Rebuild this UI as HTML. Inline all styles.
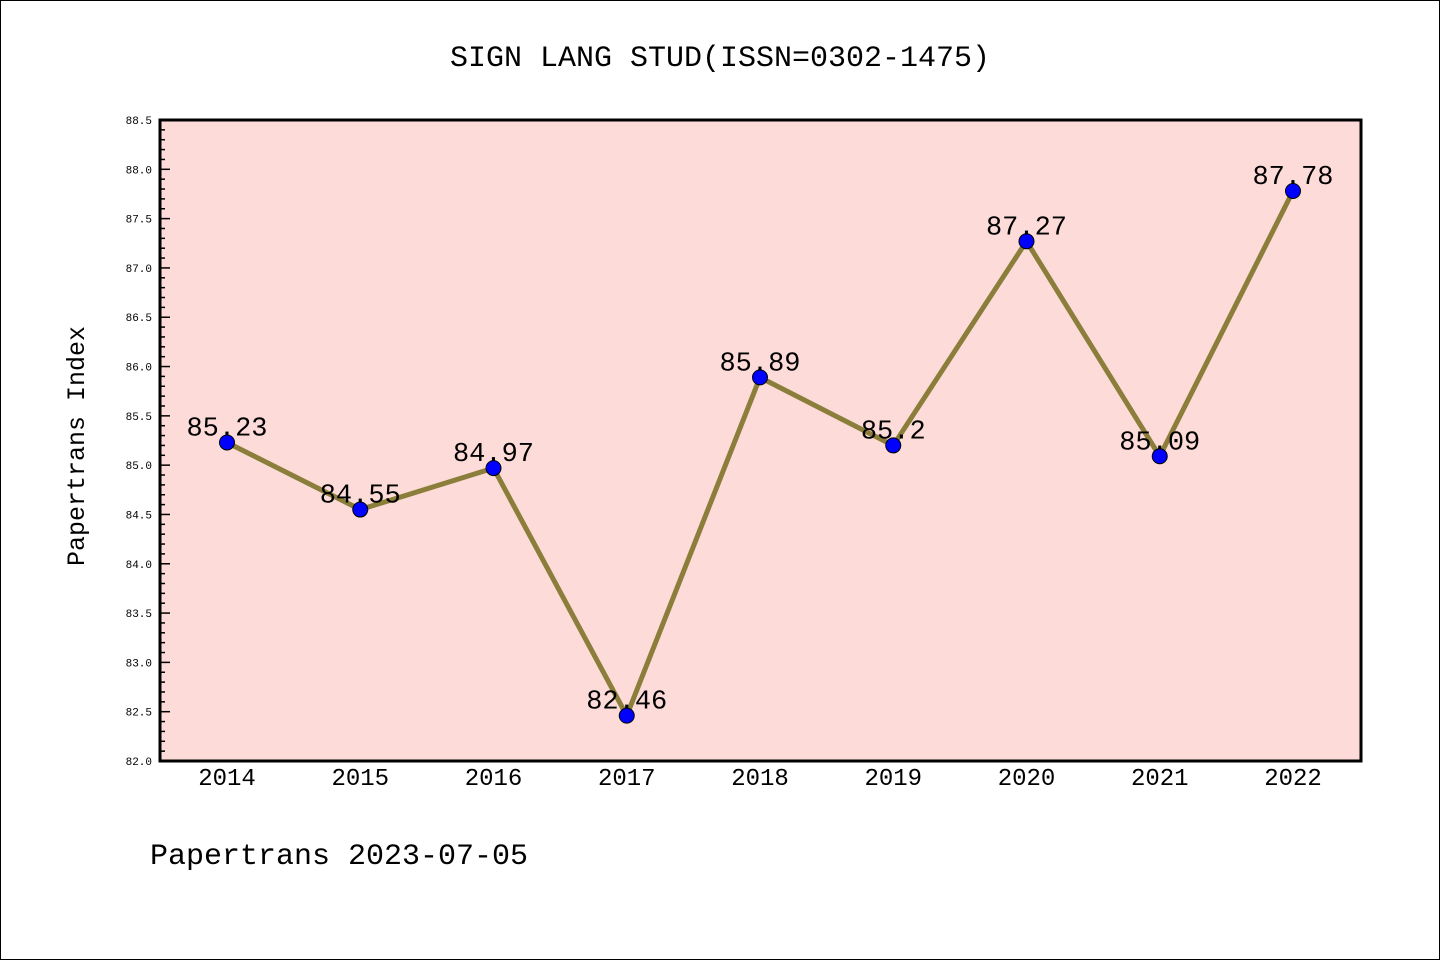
<!DOCTYPE html>
<html><head><meta charset="utf-8"><style>
html,body{margin:0;padding:0;background:#fff}
svg{display:block}
text{font-family:"Liberation Mono","WenQuanYi Zen Hei Mono",monospace}
</style></head><body>
<svg id="chart" width="1440" height="960" xmlns="http://www.w3.org/2000/svg">
<rect x="0.5" y="0.5" width="1439" height="959" fill="#fff" stroke="#000"/>
<text x="720" y="66" text-anchor="middle" font-size="30">SIGN LANG STUD(ISSN=0302-1475)</text>
<rect x="160" y="120" width="1201" height="641" fill="#fddbd8"/>
<g id="ticks"></g>
<g id="series"></g>
<rect x="160" y="120" width="1201" height="641" fill="none" stroke="#000" stroke-width="3"/>
<text x="84" y="446" text-anchor="middle" font-size="25" transform="rotate(-90 84 446)">Papertrans Index</text>
<text x="150" y="864" font-size="30">Papertrans 2023-07-05</text>
</svg>
<script>
const years = ["2014","2015","2016","2017","2018","2019","2020","2021","2022"];
const values = [85.23,84.55,84.97,82.46,85.89,85.2,87.27,85.09,87.78];
const valueLabels = ["85.23","84.55","84.97","82.46","85.89","85.2","87.27","85.09","87.78"];
const yMin = 82.0, yMax = 88.5;
const NS="http://www.w3.org/2000/svg";
const L=160,R=1361,T=120,B=761;
function xs(i){return 227+i*(1293-227)/(years.length-1);}
function ys(v){return B-(v-yMin)/(yMax-yMin)*(B-T);}
function mk(tag,attrs,parent){const e=document.createElementNS(NS,tag);for(const k in attrs)e.setAttribute(k,attrs[k]);parent.appendChild(e);return e;}
const tg=document.getElementById('ticks');
for(let k=0;k<=Math.round((yMax-yMin)*10);k++){
  const v=yMin+k/10,y=ys(v),major=k%5===0;
  const t=mk('line',{x1:L,x2:L+(major?10:5),y1:y,y2:y,stroke:'#000','stroke-width':1.5},tg);
  
  
  if(major){
    const tx=mk('text',{x:L-8,y:y+4,'text-anchor':'end','font-size':11},tg);
    tx.textContent=v.toFixed(1);
    
    
  }
}
years.forEach((yr,i)=>{
  const tx=mk('text',{x:xs(i),y:785,'text-anchor':'middle','font-size':24},tg);
  tx.textContent=yr;
  
  
});
const sg=document.getElementById('series');
const line=mk('polyline',{points:values.map((v,i)=>xs(i)+','+ys(v)).join(' '),fill:'none',stroke:'#8b7d3a','stroke-width':5,'stroke-linejoin':'round'},sg);


values.forEach((v,i)=>{
  const c=mk('circle',{cx:xs(i),cy:ys(v),r:7.5,fill:'#0000ff',stroke:'#000','stroke-width':1},sg);
  
  
  const t=mk('text',{x:xs(i),y:ys(v)-7,'text-anchor':'middle','font-size':27},sg);
  t.textContent=valueLabels[i];
  
  
});
</script>
</body></html>
